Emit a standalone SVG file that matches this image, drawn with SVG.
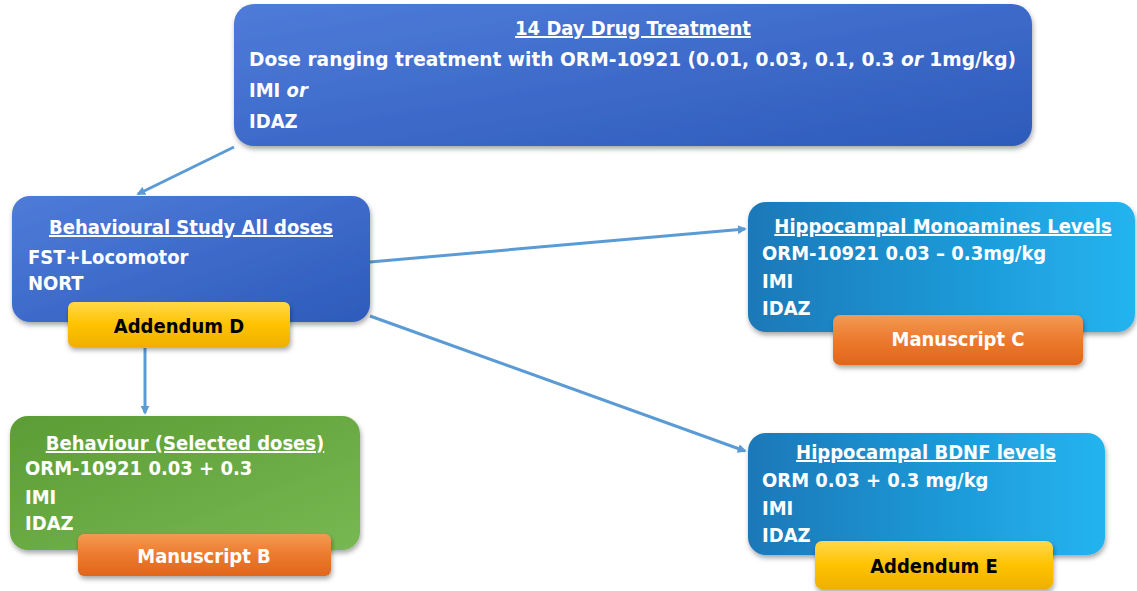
<svg xmlns="http://www.w3.org/2000/svg" width="1137" height="591" viewBox="0 0 1137 591">
<style>
.t{font-family:"Liberation Sans Narrow","DejaVu Sans Condensed","Liberation Sans",sans-serif;font-weight:bold;font-size:20px;fill:#ffffff}
.h{text-decoration:underline;text-anchor:middle}
.tag{font-family:"Liberation Sans Narrow","DejaVu Sans Condensed","Liberation Sans",sans-serif;font-weight:bold;font-size:20px;text-anchor:middle}
.conn{stroke:#5b9bd5;stroke-width:3;fill:none;marker-end:url(#ah)}
</style>
<defs>
<linearGradient id="gBlue" x1="0" y1="0" x2="1" y2="1"><stop offset="0" stop-color="#4f7bd9"/><stop offset="1" stop-color="#2d5bbb"/></linearGradient>
<linearGradient id="gGreen" x1="0" y1="0" x2="1" y2="1"><stop offset="0" stop-color="#5c9c35"/><stop offset="1" stop-color="#78b852"/></linearGradient>
<linearGradient id="gCyan" x1="0" y1="0" x2="1" y2="0"><stop offset="0" stop-color="#1a78b8"/><stop offset="1" stop-color="#22b4f0"/></linearGradient>
<linearGradient id="gOrange" x1="0" y1="0" x2="0" y2="1"><stop offset="0" stop-color="#f39a52"/><stop offset="0.5" stop-color="#ec7a2e"/><stop offset="1" stop-color="#e0661c"/></linearGradient>
<linearGradient id="gYellow" x1="0" y1="0" x2="0" y2="1"><stop offset="0" stop-color="#ffd84a"/><stop offset="0.5" stop-color="#ffc300"/><stop offset="1" stop-color="#eeb000"/></linearGradient>
<filter id="sh" x="-10%" y="-10%" width="120%" height="130%"><feDropShadow dx="1" dy="3" stdDeviation="2.5" flood-color="#000" flood-opacity="0.35"/></filter>
<marker id="ah" viewBox="0 0 10 10" refX="8" refY="5" markerWidth="3" markerHeight="3" orient="auto"><path d="M0,0 L10,5 L0,10 z" fill="#5b9bd5"/></marker>
</defs>

<g id="connectors">
<path class="conn" d="M234,147 L138,194"/>
<path class="conn" d="M370,262 L745,229"/>
<path class="conn" d="M370,316 L745,451"/>
<path class="conn" d="M145,348 L145,413"/>
</g>

<g id="treatment">
<rect x="234" y="4" width="798" height="142" rx="20" fill="url(#gBlue)" filter="url(#sh)"/>
<text class="t h" x="633" y="35">14 Day Drug Treatment</text>
<text class="t" x="249" y="66" textLength="767" lengthAdjust="spacingAndGlyphs">Dose ranging treatment with ORM-10921 (0.01, 0.03, 0.1, 0.3 <tspan font-style="italic">or</tspan> 1mg/kg)</text>
<text class="t" x="249" y="97">IMI <tspan font-style="italic">or</tspan></text>
<text class="t" x="249" y="128">IDAZ</text>
</g>

<g id="behavioural">
<rect x="12" y="196" width="358" height="126" rx="18" fill="url(#gBlue)" filter="url(#sh)"/>
<text class="t h" x="191" y="234">Behavioural Study All doses</text>
<text class="t" x="28" y="264">FST+Locomotor</text>
<text class="t" x="28" y="290">NORT</text>
</g>

<g id="addendumD">
<rect x="68" y="302" width="222" height="45" rx="6" fill="url(#gYellow)" filter="url(#sh)"/>
<text class="tag" x="179" y="333" fill="#000">Addendum D</text>
</g>

<g id="selected">
<rect x="10" y="416" width="350" height="134" rx="18" fill="url(#gGreen)" filter="url(#sh)"/>
<text class="t h" x="185" y="450">Behaviour (Selected doses)</text>
<text class="t" x="25" y="475">ORM-10921 0.03 + 0.3</text>
<text class="t" x="25" y="504">IMI</text>
<text class="t" x="25" y="530">IDAZ</text>
</g>

<g id="manuscriptB">
<rect x="78" y="534" width="253" height="42" rx="6" fill="url(#gOrange)" filter="url(#sh)"/>
<text class="tag" x="204" y="563" fill="#fff">Manuscript B</text>
</g>

<g id="monoamines">
<rect x="748" y="202" width="387" height="130" rx="18" fill="url(#gCyan)" filter="url(#sh)"/>
<text class="t h" x="943" y="233">Hippocampal Monoamines Levels</text>
<text class="t" x="762" y="260">ORM-10921 0.03 – 0.3mg/kg</text>
<text class="t" x="762" y="288">IMI</text>
<text class="t" x="762" y="315">IDAZ</text>
</g>

<g id="manuscriptC">
<rect x="833" y="315" width="250" height="50" rx="7" fill="url(#gOrange)" filter="url(#sh)"/>
<text class="tag" x="958" y="346" fill="#fff">Manuscript C</text>
</g>

<g id="bdnf">
<rect x="748" y="433" width="357" height="122" rx="18" fill="url(#gCyan)" filter="url(#sh)"/>
<text class="t h" x="926" y="459">Hippocampal BDNF levels</text>
<text class="t" x="762" y="487">ORM 0.03 + 0.3 mg/kg</text>
<text class="t" x="762" y="515">IMI</text>
<text class="t" x="762" y="542">IDAZ</text>
</g>

<g id="addendumE">
<rect x="815" y="541" width="238" height="48" rx="7" fill="url(#gYellow)" filter="url(#sh)"/>
<text class="tag" x="934" y="573" fill="#000">Addendum E</text>
</g>
</svg>
